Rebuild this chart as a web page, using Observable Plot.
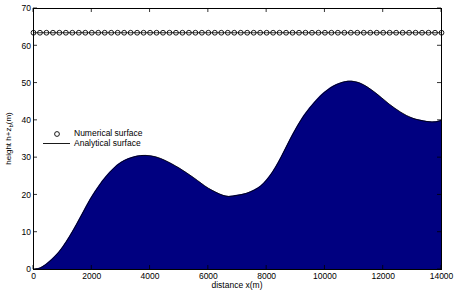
<!DOCTYPE html>
<html>
<head>
<meta charset="utf-8">
<script src="https://cdn.jsdelivr.net/npm/d3@7"></script>
<script src="https://cdn.jsdelivr.net/npm/@observablehq/plot@0.6"></script>
<style>
  html, body { margin: 0; padding: 0; background: white; }
  #chart { width: 457px; height: 291px; }
</style>
</head>
<body>
<div id="chart"></div>
<script>
// Bed profile (analytical)
const bedX = [0, 250, 500, 750, 1000, 1250, 1500, 1750, 2000, 2500, 3000, 3500, 3850, 4200, 4500, 5000, 5500, 6000, 6500, 6700, 7000, 7300, 7600, 7800, 8000, 8200, 8400, 8600, 8800, 9000, 9200, 9400, 9700, 10000, 10400, 10800, 11200, 11700, 12200, 12600, 13000, 13500, 13800, 14000];
const bedZ = [0, 0.5, 1.8, 3.6, 6, 9, 12.4, 16, 19.5, 25, 28.7, 30.3, 30.6, 30.2, 29.3, 27.2, 24.6, 21.8, 19.9, 19.6, 19.9, 20.4, 21.4, 22.4, 24, 26.1, 28.7, 31.7, 34.8, 37.7, 40.3, 42.5, 45.3, 47.6, 49.6, 50.5, 50.0, 47.6, 44.4, 42.2, 40.6, 39.7, 39.6, 40];

// Numerical free surface samples
const surfX = [0,222,444,667,889,1111,1333,1556,1778,2000,2222,2444,2667,2889,3111,3333,3556,3778,4000,4222,4444,4667,4889,5111,5333,5556,5778,6000,6222,6444,6667,6889,7111,7333,7556,7778,8000,8222,8444,8667,8889,9111,9333,9556,9778,10000,10222,10444,10667,10889,11111,11333,11556,11778,12000,12222,12444,12667,12889,13111,13333,13556,13778,14000];
const surfLevel = 63.5;

const xTicks = [0, 2000, 4000, 6000, 8000, 10000, 12000, 14000];
const yTicks = [0, 10, 20, 30, 40, 50, 60, 70];

const bed = bedX.map((x, i) => ({x, z: bedZ[i]}));
const surf = surfX.map(x => ({x, h: surfLevel}));

const font = "'Liberation Sans', Arial, Helvetica, sans-serif";

const plot = Plot.plot({
  width: 457,
  height: 291,
  marginLeft: 33,
  marginRight: 16,
  marginTop: 8,
  marginBottom: 22,
  style: {fontFamily: font, fontSize: "8.5px", background: "white", color: "black"},
  x: {domain: [0, 14000]},
  y: {domain: [0, 70]},
  marks: [
    Plot.areaY(bed, {x: "x", y: "z", fill: "#000080", curve: "catmull-rom"}),
    Plot.lineY(bed, {x: "x", y: "z", stroke: "black", strokeWidth: 0.8, curve: "catmull-rom"}),
    Plot.lineY(surf, {x: "x", y: "h", stroke: "black", strokeWidth: 0.8}),
    Plot.dot(surf, {x: "x", y: "h", r: 2.4, stroke: "black", strokeWidth: 0.9, fill: "none"}),
    Plot.frame({stroke: "black", strokeWidth: 1}),
    Plot.axisX(xTicks, {anchor: "bottom", tickSize: 0, tickPadding: 3, label: null, tickFormat: d => String(d)}),
    Plot.axisY(yTicks, {anchor: "left", tickSize: 0, tickPadding: 2.5, label: null})
  ]
});

document.getElementById("chart").appendChild(plot);

const svg = d3.select(plot);
const sx = plot.scale("x"), sy = plot.scale("y");
const X0 = sx.apply(0), X1 = sx.apply(14000), Y0 = sy.apply(0), Y1 = sy.apply(70);
const tk = 4;

// inward ticks on all four sides
const tg = svg.append("g").attr("stroke", "black").attr("stroke-width", 0.8);
xTicks.forEach(t => {
  const px = sx.apply(t);
  tg.append("line").attr("x1", px).attr("x2", px).attr("y1", Y0).attr("y2", Y0 - tk);
  tg.append("line").attr("x1", px).attr("x2", px).attr("y1", Y1).attr("y2", Y1 + tk);
});
yTicks.forEach(t => {
  const py = sy.apply(t);
  tg.append("line").attr("x1", X0).attr("x2", X0 + tk).attr("y1", py).attr("y2", py);
  tg.append("line").attr("x1", X1).attr("x2", X1 - tk).attr("y1", py).attr("y2", py);
});

// x label
svg.append("text")
  .attr("x", (X0 + X1) / 2).attr("y", 286)
  .attr("text-anchor", "middle").attr("dominant-baseline", "middle")
  .attr("font-family", font).attr("font-size", "8.5px").attr("fill", "black")
  .text("distance x(m)");

// y label with subscript
const yl = svg.append("text")
  .attr("transform", `translate(11,${(Y0 + Y1) / 2}) rotate(-90)`)
  .attr("text-anchor", "middle")
  .attr("font-family", font).attr("font-size", "8px").attr("fill", "black");
yl.append("tspan").text("height h+z");
yl.append("tspan").attr("font-size", "6px").attr("dy", "2").text("b");
yl.append("tspan").attr("dy", "-2").text("(m)");

// legend
const lg = svg.append("g").attr("font-family", font).attr("font-size", "8.5px").attr("fill", "black").attr("text-anchor", "start");
lg.append("circle").attr("cx", 57).attr("cy", 134).attr("r", 2.4).attr("fill", "none").attr("stroke", "black").attr("stroke-width", 0.9);
lg.append("text").attr("x", 74).attr("y", 134).attr("text-anchor", "start").attr("dominant-baseline", "middle").text("Numerical surface");
lg.append("line").attr("x1", 43).attr("x2", 70).attr("y1", 143.5).attr("y2", 143.5).attr("stroke", "black").attr("stroke-width", 0.9);
lg.append("text").attr("x", 74).attr("y", 143.8).attr("text-anchor", "start").attr("dominant-baseline", "middle").text("Analytical surface");
</script>
</body>
</html>
